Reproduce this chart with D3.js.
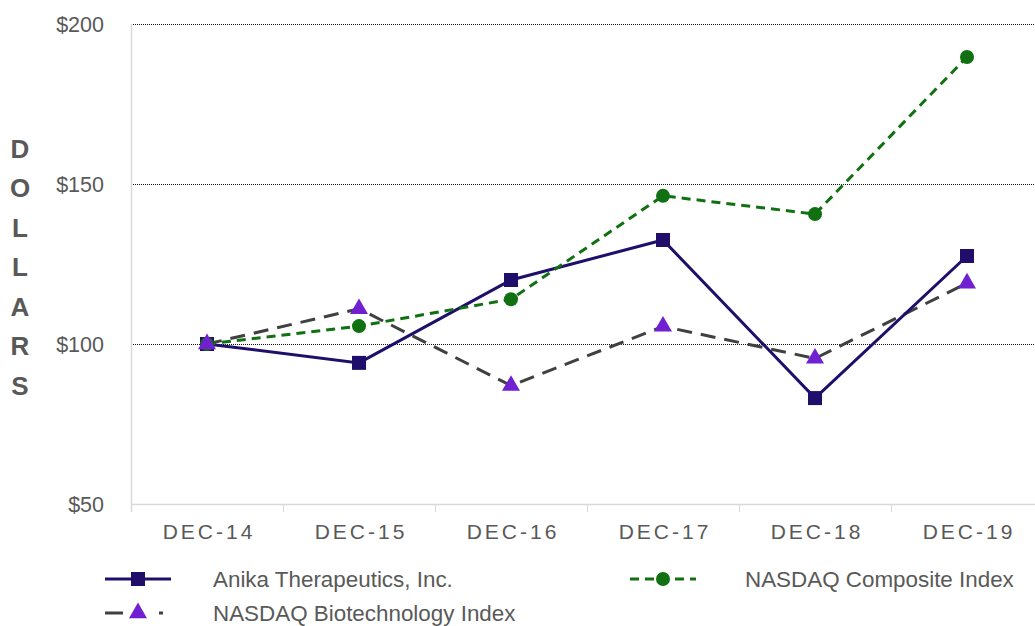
<!DOCTYPE html>
<html>
<head>
<meta charset="utf-8">
<script src="https://cdn.jsdelivr.net/npm/d3@7"></script>
<style>
  body { margin: 0; background: #fff; }
  svg { display: block; font-family: "Liberation Sans", Arial, sans-serif; }
</style>
</head>
<body>
<div id="chart"></div>
<script>
"use strict";

const years = ["DEC-14", "DEC-15", "DEC-16", "DEC-17", "DEC-18", "DEC-19"];
const anika = [100, 94.1, 120, 132.5, 83.1, 127.5];
const composite = [100, 105.6, 114, 146.3, 140.6, 189.7];
const biotech = [100, 111, 87, 105.5, 95.5, 119];
const yTicks = [50, 100, 150, 200];
const seriesNames = ["Anika Therapeutics, Inc.", "NASDAQ Composite Index", "NASDAQ Biotechnology Index"];

const plot = {
    width: 1035,
    height: 626,
    left: 131,
    right: 1043,
    top: 24,
    bottom: 504
}

const grey = "#595959";

let svg = d3.select("#chart")
    .append("svg")
    .attr("width", plot.width)
    .attr("height", plot.height);

let xScale = d3.scaleBand()
    .domain(years)
    .range([plot.left, plot.right]);

let yScale = d3.scaleLinear()
    .domain([50, 200])
    .range([plot.bottom, plot.top]);

// gridlines (dotted, except the base)
svg.selectAll(".grid")
    .data(yTicks.filter((t) => t > 50))
    .enter()
    .append("line")
    .attr("x1", plot.left)
    .attr("x2", plot.width)
    .attr("y1", (d) => yScale(d) + 0.5)
    .attr("y2", (d) => yScale(d) + 0.5)
    .attr("stroke", "#111")
    .attr("stroke-width", 1.2)
    .attr("stroke-dasharray", "1,1");

// axes lines
svg.append("line")
    .attr("x1", plot.left + 0.5).attr("x2", plot.left + 0.5)
    .attr("y1", plot.top).attr("y2", plot.bottom + 8)
    .attr("stroke", "#d9d9d9").attr("stroke-width", 1.5);
svg.append("line")
    .attr("x1", plot.left).attr("x2", plot.width)
    .attr("y1", plot.bottom + 0.5).attr("y2", plot.bottom + 0.5)
    .attr("stroke", "#d9d9d9").attr("stroke-width", 1.5);

// category separators
svg.selectAll(".sep")
    .data(years.slice(1))
    .enter()
    .append("line")
    .attr("x1", (d) => xScale(d) + 0.5)
    .attr("x2", (d) => xScale(d) + 0.5)
    .attr("y1", plot.bottom)
    .attr("y2", plot.bottom + 8)
    .attr("stroke", "#d9d9d9");

// y tick labels
svg.selectAll(".ylab")
    .data(yTicks)
    .enter()
    .append("text")
    .attr("x", 104)
    .attr("y", (d) => yScale(d) + 7.5)
    .attr("text-anchor", "end")
    .attr("fill", grey)
    .style("font-size", "21.5px")
    .text((d) => "$" + d);

// x tick labels
svg.selectAll(".xlab")
    .data(years)
    .enter()
    .append("text")
    .attr("x", (d) => xScale(d) + xScale.bandwidth() / 2 + 2)
    .attr("y", 539)
    .attr("text-anchor", "middle")
    .attr("fill", grey)
    .style("font-size", "21px")
    .style("letter-spacing", "3px")
    .text((d) => d);

// stacked axis title
svg.selectAll(".ytitle")
    .data("DOLLARS".split(""))
    .enter()
    .append("text")
    .attr("x", 20)
    .attr("y", (d, i) => 157.5 + i * 39.5)
    .attr("text-anchor", "middle")
    .attr("fill", grey)
    .style("font-size", "26px")
    .style("font-weight", "bold")
    .text((d) => d);

const styles = [
    { data: anika, color: "#1f0f6b", dash: null, marker: "square", markerColor: "#1f0f6b" },
    { data: composite, color: "#117011", dash: "9,6", marker: "circle", markerColor: "#117011" },
    { data: biotech, color: "#404040", dash: "15,9", marker: "triangle", markerColor: "#7020d0" }
];

let line = d3.line()
    .x((d, i) => xScale(years[i]) + xScale.bandwidth() / 2)
    .y((d) => yScale(d));

function drawMarker(g, type, x, y, color) {
    if (type === "square") {
        g.append("rect")
            .attr("x", x - 7).attr("y", y - 7)
            .attr("width", 14).attr("height", 14)
            .attr("fill", color);
    } else if (type === "circle") {
        g.append("circle")
            .attr("cx", x).attr("cy", y).attr("r", 7)
            .attr("fill", color);
    } else {
        g.append("path")
            .attr("d", d3.symbol().type(d3.symbolTriangle).size(140)())
            .attr("transform", "translate(" + x + "," + y + ")")
            .attr("fill", color);
    }
}

// draw order: biotech line under, then anika, then composite, markers on top
let order = [2, 0, 1];
order.forEach((k) => {
    let s = styles[k];
    svg.append("path")
        .datum(s.data)
        .attr("fill", "none")
        .attr("stroke", s.color)
        .attr("stroke-width", 3)
        .attr("stroke-dasharray", s.dash)
        .attr("d", line);
});
[0, 1, 2].forEach((k) => {
    let s = styles[k];
    let g = svg.append("g");
    s.data.forEach((v, i) => {
        drawMarker(g, s.marker, xScale(years[i]) + xScale.bandwidth() / 2, yScale(v), s.markerColor);
    });
});

// legend
const legendPos = [
    { x: 105, y: 579, tx: 213 },
    { x: 630, y: 579, tx: 745 },
    { x: 105, y: 613, tx: 213 }
];
legendPos.forEach((p, k) => {
    let s = styles[k];
    let g = svg.append("g");
    g.append("line")
        .attr("x1", p.x).attr("x2", p.x + 66)
        .attr("y1", p.y).attr("y2", p.y)
        .attr("stroke", s.color)
        .attr("stroke-width", 3)
        .attr("stroke-dasharray", k === 2 ? "18,36,4,100" : s.dash);
    drawMarker(g, s.marker, p.x + 33, p.y, s.markerColor);
    g.append("text")
        .attr("x", p.tx)
        .attr("y", p.y + 8)
        .attr("fill", grey)
        .style("font-size", "22.4px")
        .text(seriesNames[k]);
});
</script>
</body>
</html>
